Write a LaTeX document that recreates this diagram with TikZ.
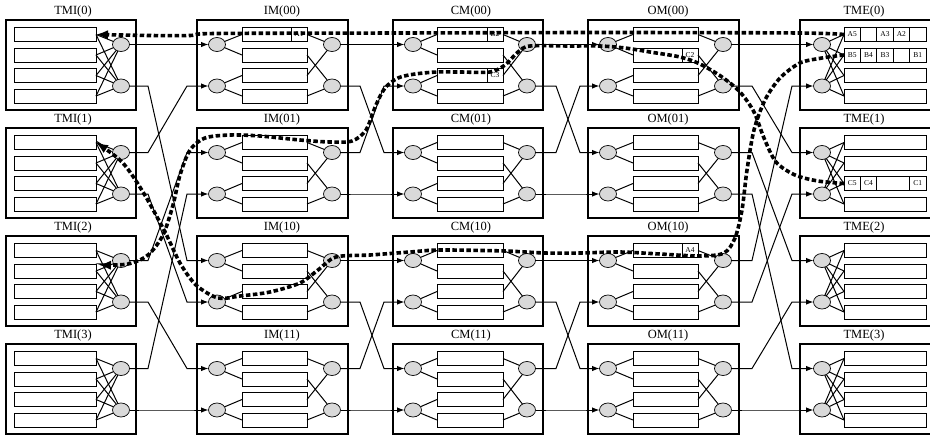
\documentclass[tikz,border=0pt]{standalone}
\usepackage{fontspec}
\setmainfont{Liberation Serif}
\usetikzlibrary{arrows.meta,shapes.geometric}
\tikzset{
 modbox/.style={draw,line width=1.1pt},
 buf/.style={rectangle,draw,fill=white,line width=0.9pt,minimum height=14pt,inner sep=0pt,outer sep=0pt},
 ell/.style={ellipse,draw,fill=black!15,line width=0.7pt,minimum width=17pt,minimum height=14pt,inner sep=0pt,outer sep=0pt},
 ttl/.style={font=\fontsize{12.5}{13}\selectfont,inner sep=0pt},
 wire/.style={line width=1pt},
 awire/.style={wire,-{Latex[length=7.5pt,width=5.5pt]}},
 dpath/.style={line width=3.6pt,dash pattern=on 4.5pt off 2.5pt},
 dhead/.style={-{Latex[length=12pt,width=9.5pt]}},
 celltxt/.style={font=\fontsize{7.5}{7.5}\selectfont,inner sep=0pt},
 cellline/.style={line width=0.7pt},
}
% #1 name, #2 x0, #3 x1, #4 buffer centre x, #5 buffer width, #6 left ellipse x, #7 right ellipse x, #8 title x
\newcommand\MidModule[8]{%
 \foreach \r/\lab in {0/00,1/01,2/10,3/11}{%
  \pgfmathsetmacro\T{20+108*\r}
  \draw[modbox] (#2,\T) rectangle (#3,\T+90);
  \node[ttl] at (#8,\T-9) {#1(\lab)};
  \foreach \k/\dy in {1/14.5,2/35,3/55.5,4/76}
    \node[buf,minimum width=#5pt] (#1\r-b\k) at (#4,\T+\dy) {};
  \node[ell] (#1\r-L1) at (#6,\T+24.5) {};
  \node[ell] (#1\r-L2) at (#6,\T+66) {};
  \node[ell] (#1\r-R1) at (#7,\T+24.5) {};
  \node[ell] (#1\r-R2) at (#7,\T+66) {};
  \draw[wire] (#1\r-L1) -- (#1\r-b1.west);
  \draw[wire] (#1\r-L1) -- (#1\r-b2.west);
  \draw[wire] (#1\r-L2) -- (#1\r-b3.west);
  \draw[wire] (#1\r-L2) -- (#1\r-b4.west);
  \draw[wire] (#1\r-b1.east) -- (#1\r-R1);
  \draw[wire] (#1\r-b2.east) -- (#1\r-R2);
  \draw[wire] (#1\r-b3.east) -- (#1\r-R1);
  \draw[wire] (#1\r-b4.east) -- (#1\r-R2);
 }}
\newcommand\mylink[4]{\draw[awire] (#1.east) -- (#3 |- #1) -- (#4 |- #2) -- (#2.west);}
\begin{document}
\begin{tikzpicture}[x=1pt,y=-1pt]
\useasboundingbox (0,0) rectangle (930,437);
\fill[white] (0,0) rectangle (930,437);
% TMI column
\foreach \r in {0,...,3}{
  \pgfmathsetmacro\T{20+108*\r}
  \draw[modbox] (6,\T) rectangle (136,\T+90);
  \node[ttl] at (73,\T-9) {TMI(\r)};
  \foreach \k/\dy in {1/14.5,2/35,3/55.5,4/76}
    \node[buf,minimum width=82pt] (TMI\r-b\k) at (55,\T+\dy) {};
  \node[ell] (TMI\r-R1) at (121,\T+24.5) {};
  \node[ell] (TMI\r-R2) at (121,\T+66) {};
  \foreach \k in {1,...,4}{
    \draw[wire] (TMI\r-b\k.east) -- (TMI\r-R1);
    \draw[wire] (TMI\r-b\k.east) -- (TMI\r-R2);
  }
}
% middle columns
\MidModule{IM}{197}{348}{274.5}{65}{217}{332}{282}
\MidModule{CM}{393}{543}{470}{66}{413}{527}{471}
\MidModule{OM}{588}{739}{665.5}{65}{608}{723}{668}
% TME column
\foreach \r in {0,...,3}{
  \pgfmathsetmacro\T{20+108*\r}
  \draw[modbox] (800,\T) rectangle (936,\T+90);
  \node[ttl] at (864,\T-9) {TME(\r)};
  \foreach \k/\dy in {1/14.5,2/35,3/55.5,4/76}
    \node[buf,minimum width=82pt] (TME\r-b\k) at (885,\T+\dy) {};
  \node[ell] (TME\r-L1) at (822,\T+24.5) {};
  \node[ell] (TME\r-L2) at (822,\T+66) {};
  \foreach \k in {1,...,4}{
    \draw[wire] (TME\r-L1) -- (TME\r-b\k.west);
    \draw[wire] (TME\r-L2) -- (TME\r-b\k.west);
  }
}
% cells with packet labels
\foreach \n/\t in {IM0-b1/A1,CM0-b1/B2,CM0-b3/C3,OM0-b2/C2,OM2-b1/A4}{
  \draw[cellline] ([xshift=-16pt]\n.north east) -- ([xshift=-16pt]\n.south east);
  \node[celltxt] at ([xshift=-8pt]\n.east) {\t};
}
\foreach \d in {16.4,32.8,49.2,65.6}{
  \draw[cellline] ([xshift=\d pt]TME0-b1.north west) -- ([xshift=\d pt]TME0-b1.south west);
  \draw[cellline] ([xshift=\d pt]TME0-b2.north west) -- ([xshift=\d pt]TME0-b2.south west);
}
\foreach \d in {16.4,32.8,65.6}
  \draw[cellline] ([xshift=\d pt]TME1-b3.north west) -- ([xshift=\d pt]TME1-b3.south west);
\foreach \n/\d/\t in {TME0-b1/8.2/A5,TME0-b1/41/A3,TME0-b1/57.4/A2,
  TME0-b2/8.2/B5,TME0-b2/24.6/B4,TME0-b2/41/B3,TME0-b2/73.8/B1,
  TME1-b3/8.2/C5,TME1-b3/24.6/C4,TME1-b3/73.8/C1}
  \node[celltxt] at ([xshift=\d pt]\n.west) {\t};
% bend positions
\coordinate (a1) at (148,0); \coordinate (b1) at (187,0);
\coordinate (a2) at (360,0); \coordinate (b2) at (384,0);
\coordinate (a3) at (556,0); \coordinate (b3) at (580,0);
\coordinate (a4) at (752,0); \coordinate (b4) at (792,0);
% TMI -> IM
\mylink{TMI0-R1}{IM0-L1}{a1}{b1}
\mylink{TMI0-R2}{IM2-L1}{a1}{b1}
\mylink{TMI1-R1}{IM0-L2}{a1}{b1}
\mylink{TMI1-R2}{IM2-L2}{a1}{b1}
\mylink{TMI2-R1}{IM1-L1}{a1}{b1}
\mylink{TMI2-R2}{IM3-L1}{a1}{b1}
\mylink{TMI3-R1}{IM1-L2}{a1}{b1}
\mylink{TMI3-R2}{IM3-L2}{a1}{b1}
% IM -> CM
\mylink{IM0-R1}{CM0-L1}{a2}{b2}
\mylink{IM0-R2}{CM1-L1}{a2}{b2}
\mylink{IM1-R1}{CM0-L2}{a2}{b2}
\mylink{IM1-R2}{CM1-L2}{a2}{b2}
\mylink{IM2-R1}{CM2-L1}{a2}{b2}
\mylink{IM2-R2}{CM3-L1}{a2}{b2}
\mylink{IM3-R1}{CM2-L2}{a2}{b2}
\mylink{IM3-R2}{CM3-L2}{a2}{b2}
% CM -> OM
\mylink{CM0-R1}{OM0-L1}{a3}{b3}
\mylink{CM0-R2}{OM1-L1}{a3}{b3}
\mylink{CM1-R1}{OM0-L2}{a3}{b3}
\mylink{CM1-R2}{OM1-L2}{a3}{b3}
\mylink{CM2-R1}{OM2-L1}{a3}{b3}
\mylink{CM2-R2}{OM3-L1}{a3}{b3}
\mylink{CM3-R1}{OM2-L2}{a3}{b3}
\mylink{CM3-R2}{OM3-L2}{a3}{b3}
% OM -> TME
\mylink{OM0-R1}{TME0-L1}{a4}{b4}
\mylink{OM2-R1}{TME0-L2}{a4}{b4}
\mylink{OM0-R2}{TME1-L1}{a4}{b4}
\mylink{OM2-R2}{TME1-L2}{a4}{b4}
\mylink{OM1-R1}{TME2-L1}{a4}{b4}
\mylink{OM3-R1}{TME2-L2}{a4}{b4}
\mylink{OM1-R2}{TME3-L1}{a4}{b4}
\mylink{OM3-R2}{TME3-L2}{a4}{b4}
% dashed paths
\draw[dpath,dhead] plot[smooth,tension=0.5] coordinates {(TME0-b1.west) (800,33) (600,32.5) (400,33) (215,33.5) (190,35.5) (150,35.5) (TMI0-b1.east)};
\draw[dpath,dhead] plot[smooth,tension=0.5] coordinates {(TME0-b2.west) (822,58) (800,63) (780,78) (765,100) (754,130) (747,170) (742,210) (735,238) (724,253) (700,256) (660,254) (620,252) (580,253) (545,253) (505,251) (440,250) (410,252) (370,255) (336,257) (318,270) (300,283) (270,292) (240,296) (218,298) (196,285) (180,263) (165,232) (143,192) (122,162) (TMI1-b1.east)};
\draw[dpath,dhead] plot[smooth,tension=0.5] coordinates {(TME1-b3.west) (818,181) (795,175) (776,162) (764,138) (754,112) (740,92) (722,77) (700,64) (680,57) (650,52) (625,48) (600,46) (570,46) (530,46) (518,52) (505,65) (490,72) (460,72) (437,72) (415,74) (398,78) (385,88) (376,105) (366,130) (352,141) (330,142) (300,140) (260,136) (230,135) (205,138) (190,150) (180,175) (173,205) (163,235) (148,255) (128,264) (99,265)};
\end{tikzpicture}
\end{document}
